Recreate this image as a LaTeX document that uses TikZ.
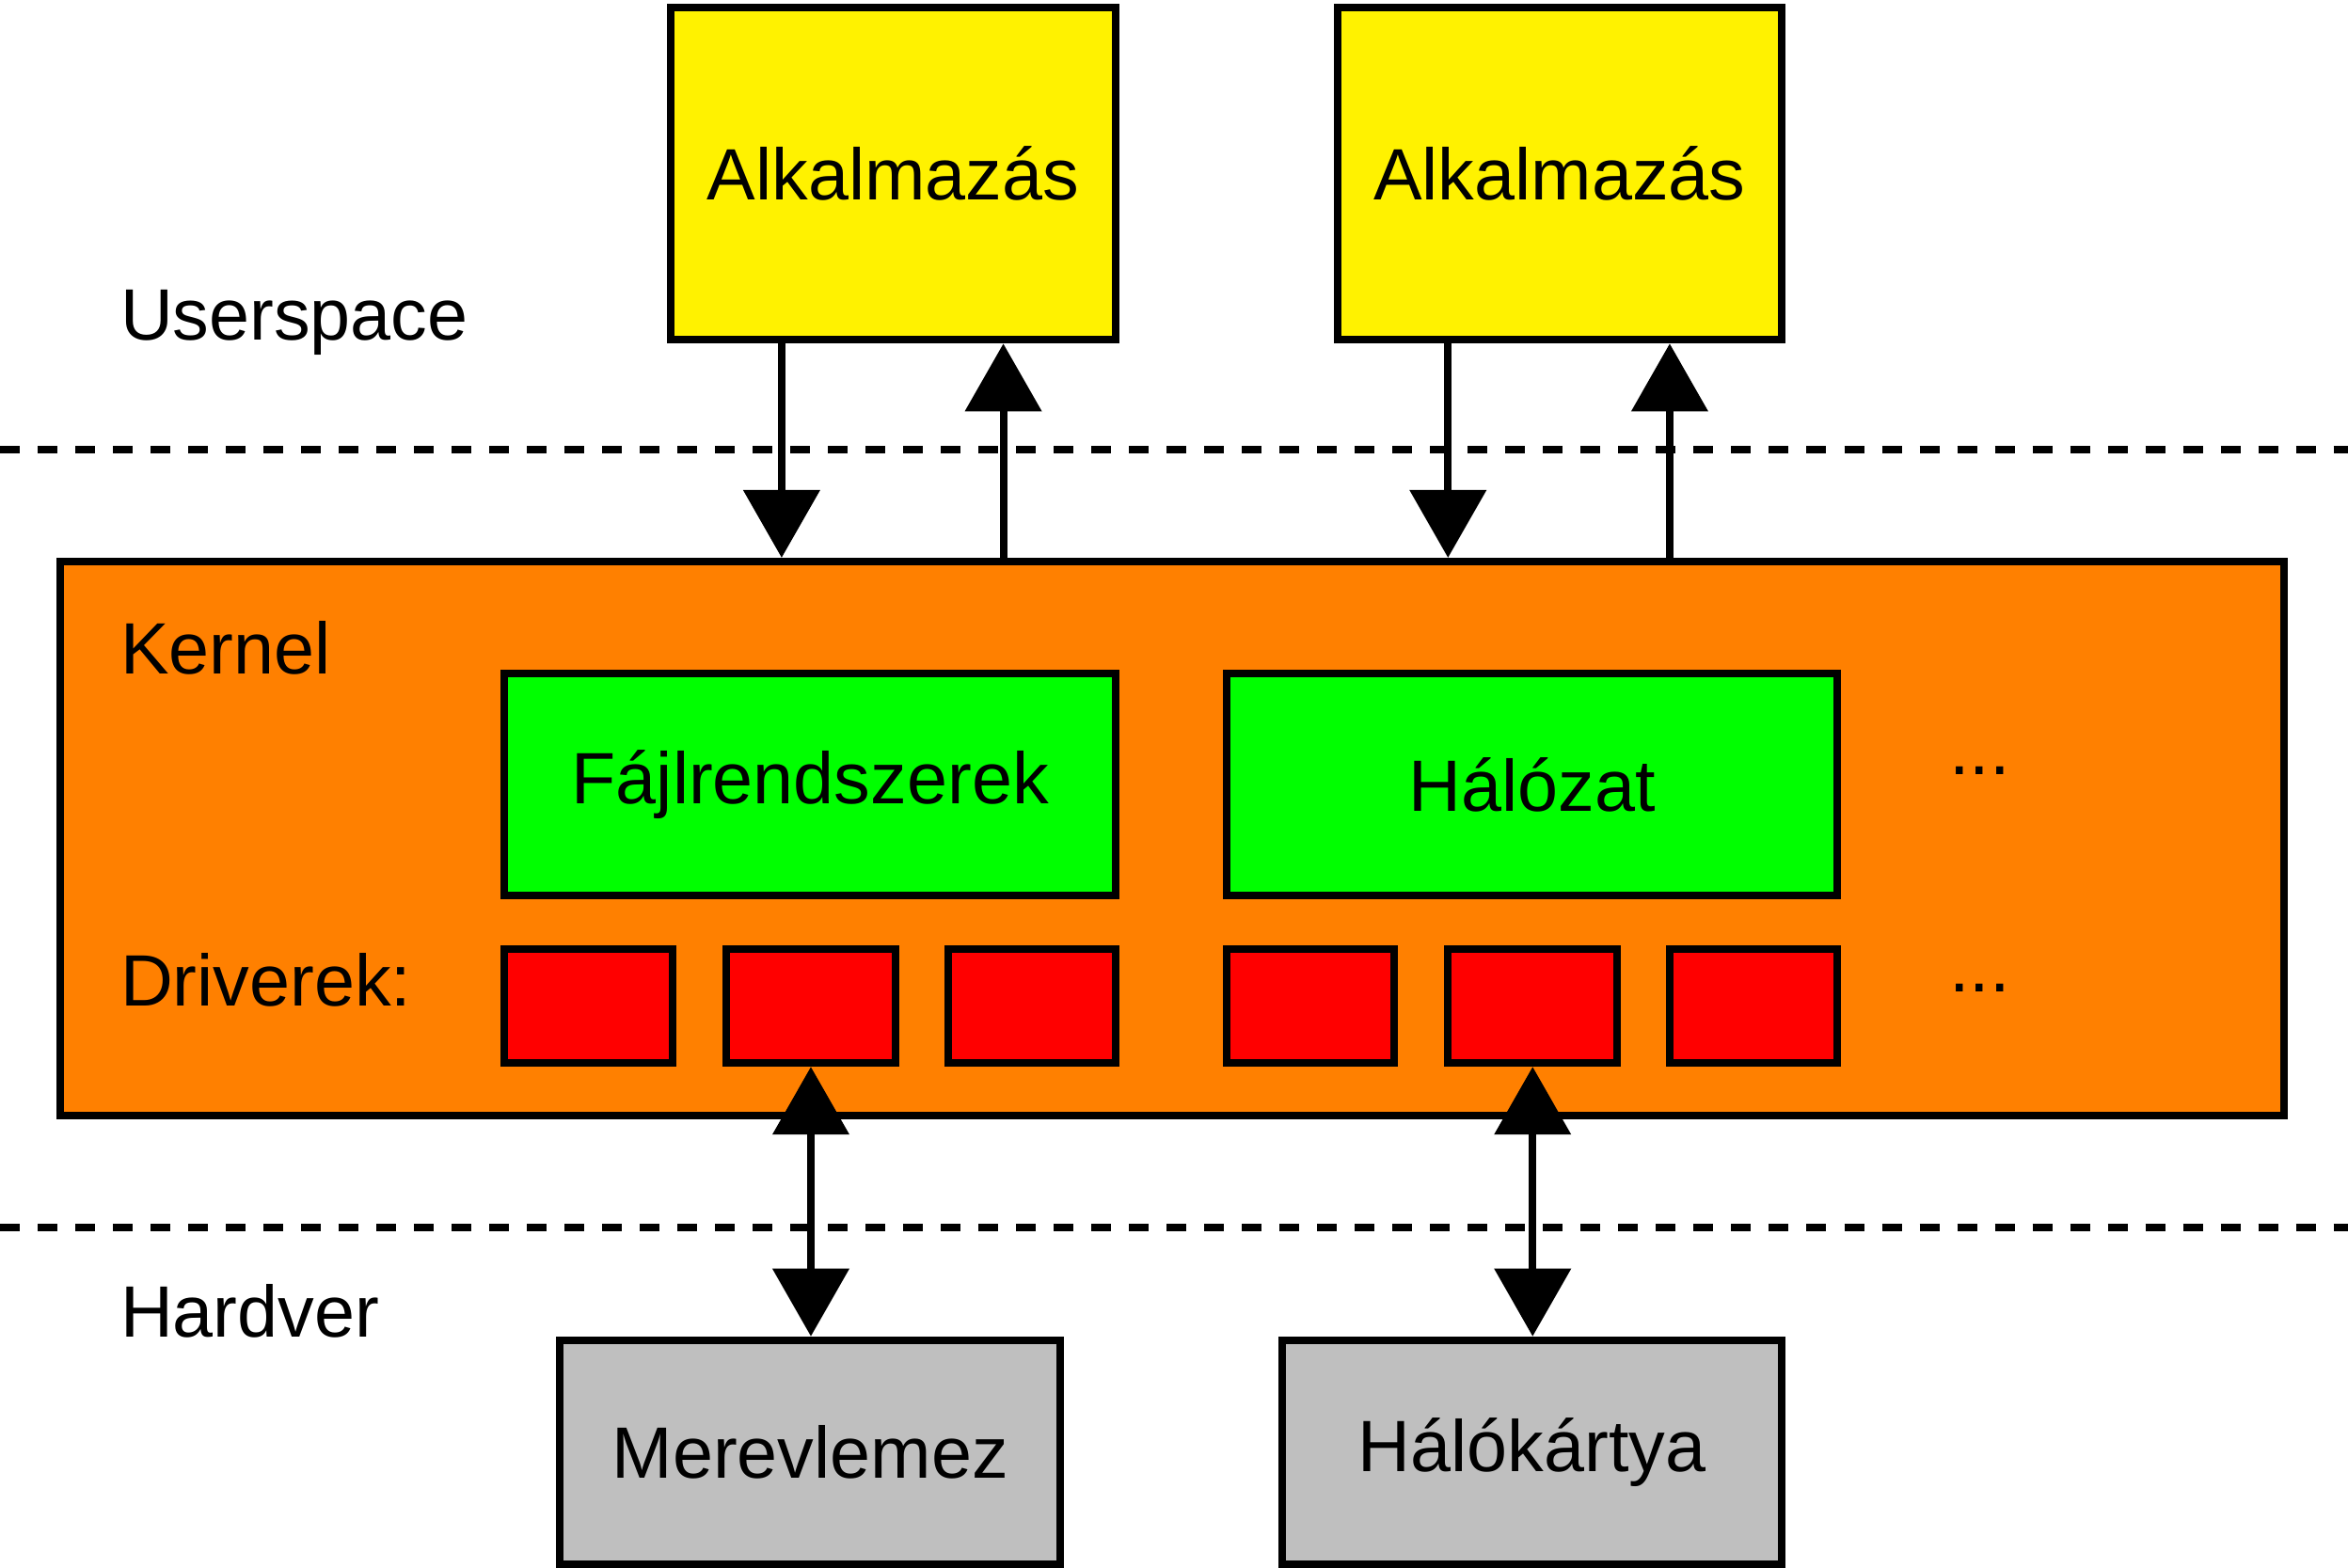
\documentclass[tikz,border=0pt]{standalone}
\usepackage{fontspec}
\setmainfont{Liberation Sans}
\usetikzlibrary{arrows.meta}
\tikzset{
    blk/.style = {draw, line width = 0.08cm, inner sep = 0pt},
    lbl/.style = {anchor = base west, inner sep = 0pt},
    arr/.style = {line width = 0.08cm, -{Triangle[length = 0.72cm, width = 0.8cm]}},
    darr/.style = {line width = 0.08cm, {Triangle[length = 0.72cm, width = 0.8cm]}-{Triangle[length = 0.72cm, width = 0.8cm]}},
    sep/.style = {line width = 0.08cm, dash pattern = on 0.21cm off 0.19cm}
}
% box from corner (x1,y1) to (x2,y2) in reference pixels
\newcommand{\blkbox}[7]{%
    \node[blk, fill = #6, minimum width = {(#4-#2)*0.01592cm}, minimum height = {(#5-#3)*0.01592cm}]
        (#1) at ({(#2+#4)/2}, {(#3+#5)/2}) {#7};}
\begin{document}
\begin{tikzpicture}[x = 0.01592cm, y = -0.01592cm, font = \fontsize{22}{26}\selectfont]
    \useasboundingbox (0,0) rectangle (1568,1047);
    % separators
    \coordinate (s1l) at (0,300);  \coordinate (s1r) at (1568,300);
    \coordinate (s2l) at (0,820);  \coordinate (s2r) at (1568,820);
    \draw[sep] (s1l) -- (s1r);
    \draw[sep] (s2l) -- (s2r);
    % kernel
    \blkbox{kern}{40}{375}{1525}{745}{orange}{}
    \blkbox{app1}{448}{5}{745}{227}{yellow}{Alkalmazás}
    \blkbox{app2}{893}{5}{1190}{227}{yellow}{Alkalmazás}
    \blkbox{fs}{337}{450}{745}{598}{green}{Fájlrendszerek}
    \blkbox{net}{819}{450}{1227}{598}{green}{Hálózat}
    \foreach \n/\a/\b in {1/337/449, 2/485/598, 3/633/745, 4/819/931, 5/967/1080, 6/1115/1227} {
        \blkbox{d\n}{\a}{634}{\b}{710}{red}{}
    }
    \blkbox{hdd}{374}{895}{708}{1045}{black!25}{Merevlemez}
    \blkbox{nic}{856}{895}{1190}{1045}{black!25}{Hálókártya}
    % labels
    \node[lbl] (lus) at (80,227) {Userspace};
    \node[lbl] (lkern) at (80,450) {Kernel};
    \node[lbl] (ldrv) at (80,672) {Driverek:};
    \node[lbl] (lhw) at (80,893) {Hardver};
    \node (dots1) at (1322,515) {...};
    \node (dots2) at (1322,660) {...};
    % arrows
    \foreach \a in {app1, app2} {
        \draw[arr] ([xshift = -1.186cm]\a.south) -- ([xshift = -1.186cm]\a.south |- kern.north);
        \draw[arr] ([xshift = 1.170cm]\a.south |- kern.north) -- ([xshift = 1.170cm]\a.south);
    }
    \draw[darr] (d2.south) -- (d2.south |- hdd.north);
    \draw[darr] (d5.south) -- (d5.south |- nic.north);
\end{tikzpicture}
\end{document}
